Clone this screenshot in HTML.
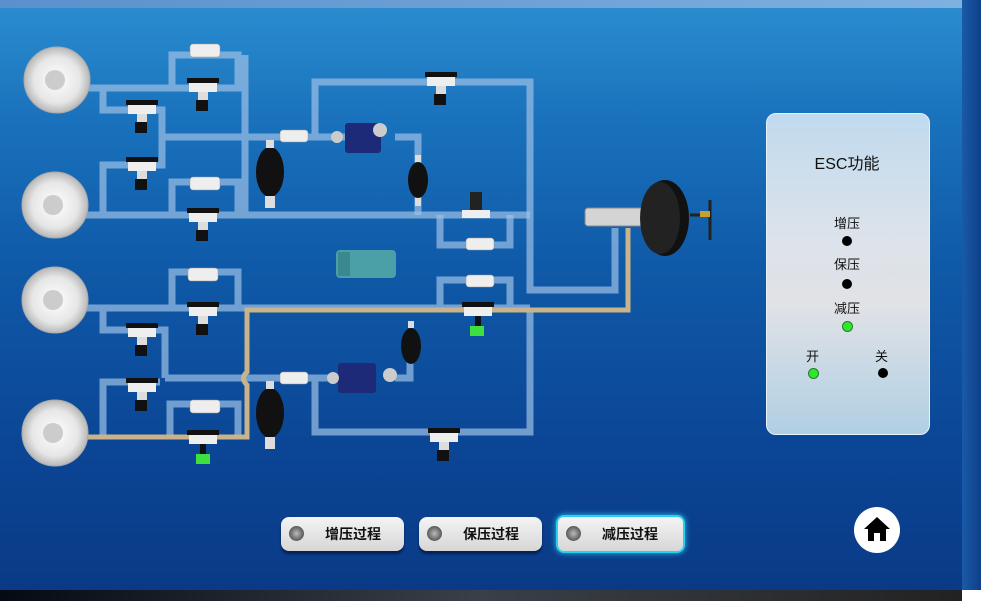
<!DOCTYPE html>
<html><head><meta charset="utf-8"><style>
body{margin:0;width:981px;height:601px;overflow:hidden;background:#0a3c8a;font-family:"Liberation Sans","Noto Sans CJK SC",sans-serif}
#bg{position:absolute;left:0;top:0;width:962px;height:590px;background:linear-gradient(180deg,#2b8ed0 0%,#1a72bc 20%,#0f5aa8 45%,#0b4696 75%,#0a3a86 100%)}
#rs{position:absolute;left:962px;top:0;width:19px;height:590px;background:linear-gradient(90deg,#1a5aa8,#0d3f8a)}
#bot{position:absolute;left:0;top:590px;width:962px;height:11px;background:linear-gradient(90deg,#050a14,#3a3f48 50%,#222)}
#wb{position:absolute;left:962px;top:590px;width:19px;height:11px;background:#fff}
#topline{position:absolute;left:0;top:0;width:962px;height:8px;background:linear-gradient(90deg,#5a90cc,#7fb0e0)}
.panel{position:absolute;left:766px;top:113px;width:162px;height:320px;border-radius:10px;background:linear-gradient(180deg,#c0daee 0%,#dde3ea 40%,#e0e2e6 60%,#b0cfe4 100%);border:1px solid #e8f2fa}
.t{position:absolute;font-size:13px;color:#111;text-align:center}
.d{position:absolute;width:10px;height:10px;border-radius:50%;background:#000}
.g{background:#2de82d;border:1px solid #2a7a2a;width:9px;height:9px}
.btn{position:absolute;height:34px;border-radius:8px;background:linear-gradient(180deg,#f4f4f4,#d6d6d6);box-shadow:0 3px 2px #062050;font-size:14px;font-weight:bold;color:#111;line-height:34px}
.btn i{position:absolute;left:8px;top:9px;width:15px;height:15px;border-radius:50%;background:radial-gradient(#bbb,#666 60%,#444);}
.btn span{position:absolute;left:44px}
</style></head><body>
<div id="bg"></div><div id="topline"></div><div id="rs"></div><div id="bot"></div><div id="wb"></div>
<svg width="962" height="590" style="position:absolute;left:0;top:0">
<defs><g id="sv"><rect x="0" y="0" width="32" height="5" fill="#111"/><rect x="2" y="5" width="28" height="9" fill="#eee"/><rect x="11" y="14" width="10" height="8" fill="#ddd"/><rect x="9" y="22" width="12" height="11" fill="#111"/></g>
<radialGradient id="wh"><stop offset="0" stop-color="#fff"/><stop offset="0.7" stop-color="#e6e6e6"/><stop offset="1" stop-color="#b8b8b8"/></radialGradient></defs>
<g fill="none" stroke="#9cc0e6" stroke-opacity="0.7" stroke-width="7" stroke-linejoin="miter">
<path d="M85 88H245 M172 88V55H238V88 M103 88V110H162V165H103V215 M162 137H300 M245 55V215 M85 215H530 M172 215V182H238V215"/>
<path d="M315 137V82H530V290H615V228 M300 137H345 M395 137H418V215 M440 215V245H510V215"/>
<path d="M85 308H530 M172 308V272H238V308 M103 308V330H165V378 M165 378H300 M103 435V382H160 M170 435V404H238V435 M440 308V280H510V308"/>
<path d="M315 378V432H530V308 M300 378H345 M395 378H410V345"/>
</g>
<path d="M85 437H247V385Q240 378 247 372V310H628V228" fill="none" stroke="#c9b38a" stroke-width="5"/>
<g fill="url(#wh)" stroke="#aaa">
<circle cx="57" cy="80" r="33"/><circle cx="55" cy="205" r="33"/><circle cx="55" cy="300" r="33"/><circle cx="55" cy="433" r="33"/>
</g>
<g fill="#ccc"><circle cx="55" cy="80" r="10"/><circle cx="53" cy="205" r="10"/><circle cx="53" cy="300" r="10"/><circle cx="53" cy="433" r="10"/></g>
<g fill="#eee" stroke="#999" stroke-width="0.5">
<rect x="190" y="44" width="30" height="13" rx="3"/><rect x="190" y="177" width="30" height="13" rx="3"/>
<rect x="188" y="268" width="30" height="13" rx="3"/><rect x="190" y="400" width="30" height="13" rx="3"/>
<rect x="280" y="130" width="28" height="12" rx="3"/><rect x="280" y="372" width="28" height="12" rx="3"/>
<rect x="466" y="238" width="28" height="12" rx="3"/><rect x="466" y="275" width="28" height="12" rx="3"/>
</g>
<use href="#sv" x="126" y="100"/><use href="#sv" x="126" y="157"/><use href="#sv" x="187" y="78"/><use href="#sv" x="187" y="208"/>
<use href="#sv" x="425" y="72"/><use href="#sv" x="126" y="323"/><use href="#sv" x="126" y="378"/><use href="#sv" x="187" y="302"/>
<use href="#sv" x="428" y="428"/>
<g><rect x="187" y="430" width="32" height="5" fill="#111"/><rect x="189" y="435" width="28" height="9" fill="#eee"/><rect x="200" y="444" width="6" height="10" fill="#111"/><rect x="196" y="454" width="14" height="10" fill="#3ee03e"/></g>
<g><rect x="462" y="302" width="32" height="5" fill="#111"/><rect x="464" y="307" width="28" height="9" fill="#eee"/><rect x="475" y="316" width="6" height="10" fill="#111"/><rect x="470" y="326" width="14" height="10" fill="#3ee03e"/></g>
<rect x="462" y="210" width="28" height="8" fill="#eee"/><rect x="470" y="192" width="12" height="18" fill="#222"/>
<g fill="#111"><ellipse cx="270" cy="172" rx="14" ry="25"/><ellipse cx="418" cy="180" rx="10" ry="18"/><ellipse cx="270" cy="413" rx="14" ry="25"/><ellipse cx="411" cy="346" rx="10" ry="18"/></g>
<g fill="#ddd"><rect x="266" y="140" width="8" height="8"/><rect x="265" y="196" width="10" height="12"/><rect x="266" y="381" width="8" height="8"/><rect x="265" y="437" width="10" height="12"/><rect x="415" y="155" width="6" height="7"/><rect x="415" y="198" width="6" height="8"/><rect x="408" y="321" width="6" height="7"/></g>
<rect x="345" y="123" width="36" height="30" rx="3" fill="#1c2a78"/><circle cx="380" cy="130" r="7" fill="#ccc"/><circle cx="337" cy="137" r="6" fill="#ccc"/>
<rect x="338" y="363" width="38" height="30" rx="3" fill="#1c2a78"/><circle cx="333" cy="378" r="6" fill="#ccc"/><circle cx="390" cy="375" r="7" fill="#ccc"/>
<rect x="336" y="250" width="60" height="28" rx="4" fill="#4aa0a6"/><rect x="338" y="252" width="12" height="24" fill="#3a8890"/>
<rect x="585" y="208" width="60" height="18" rx="3" fill="#d4d4d4" stroke="#888"/>
<ellipse cx="665" cy="218" rx="24" ry="38" fill="#111"/><ellipse cx="660" cy="218" rx="20" ry="36" fill="#222"/>
<path d="M690 215H705M710 200V240" stroke="#222" stroke-width="3"/><rect x="700" y="211" width="10" height="6" fill="#c9a030"/>
</svg>
<div class="panel"></div>
<div class="t" style="left:766px;top:150px;width:162px;font-size:16px">ESC功能</div>
<div class="t" style="left:766px;top:213px;width:162px">增压</div><div class="d" style="left:842px;top:236px"></div>
<div class="t" style="left:766px;top:254px;width:162px">保压</div><div class="d" style="left:842px;top:279px"></div>
<div class="t" style="left:766px;top:298px;width:162px">减压</div><div class="d g" style="left:842px;top:321px"></div>
<div class="t" style="left:806px;top:346px">开</div><div class="d g" style="left:808px;top:368px"></div>
<div class="t" style="left:875px;top:346px">关</div><div class="d" style="left:878px;top:368px"></div>
<div class="btn" style="left:281px;top:517px;width:123px"><i></i><span>增压过程</span></div>
<div class="btn" style="left:419px;top:517px;width:123px"><i></i><span>保压过程</span></div>
<div class="btn" style="left:556px;top:515px;width:125px;border:2px solid #2ad0f0;box-shadow:0 0 6px #28c8f0"><i></i><span>减压过程</span></div>
<div style="position:absolute;left:854px;top:507px;width:46px;height:46px;border-radius:50%;background:#fff"></div>
<svg width="28" height="26" style="position:absolute;left:863px;top:516px"><path d="M14 1L1 13H5V25H11V17H17V25H23V13H27Z" fill="#000"/></svg>
</body></html>
